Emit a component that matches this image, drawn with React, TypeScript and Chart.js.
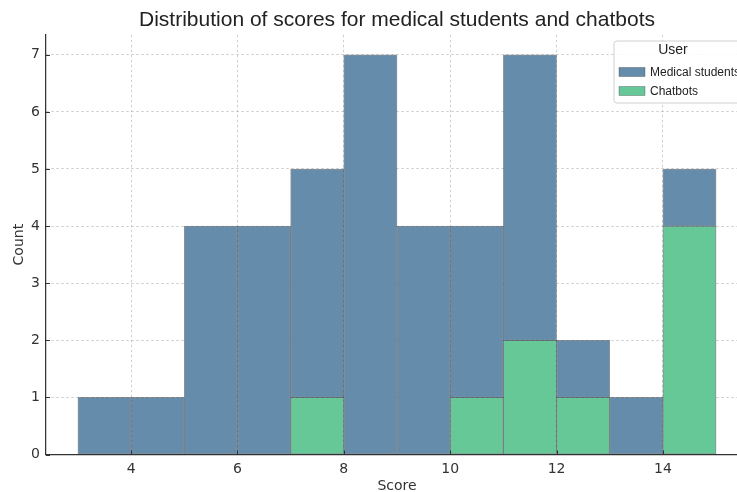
import React, { useEffect, useRef } from "react";
import { Chart, registerables } from "chart.js";

Chart.register(...registerables);

// ---- data ----
const binStarts = [3, 4, 5, 6, 7, 8, 9, 10, 11, 12, 13, 14];
const medicalStudents = [1, 1, 4, 4, 4, 7, 4, 3, 5, 1, 1, 1];
const chatbots = [0, 0, 0, 0, 1, 0, 0, 1, 2, 1, 0, 4];
const xTickValues = [4, 6, 8, 10, 12, 14];
const yTickValues = [0, 1, 2, 3, 4, 5, 6, 7];
const seriesNames = ["Medical students", "Chatbots"];
const legendTitle = "User";
const chartTitle = "Distribution of scores for medical students and chatbots";
const xLabel = "Score";
const yLabel = "Count";

const BLUE = "#658dab";
const GREEN = "#66c797";
const EDGE = "rgba(45,55,65,0.55)";
const GRID = "rgba(135,135,135,0.5)";
const TICKFONT = "DejaVu Sans";
const TEXTFONT = "Liberation Sans";

const overlay = {
  id: "overlay",
  afterDraw(chart: any) {
    const { ctx, chartArea, scales } = chart;
    const xs = scales.x;
    const ys = scales.y;
    ctx.save();
    ctx.setLineDash([]);
    // inward tick marks
    ctx.strokeStyle = "#333";
    ctx.lineWidth = 1;
    ctx.beginPath();
    xTickValues.forEach((v) => {
      const px = Math.round(xs.getPixelForValue(v)) + 0.5;
      ctx.moveTo(px, chartArea.bottom);
      ctx.lineTo(px, chartArea.bottom - 4);
    });
    yTickValues.forEach((v) => {
      const py = Math.round(ys.getPixelForValue(v)) + 0.5;
      ctx.moveTo(chartArea.left, py);
      ctx.lineTo(chartArea.left + 4, py);
    });
    ctx.stroke();

    // title
    ctx.fillStyle = "#222";
    ctx.font = `21px "${TEXTFONT}"`;
    ctx.textAlign = "center";
    ctx.textBaseline = "middle";
    ctx.fillText(chartTitle, (chartArea.left + chartArea.right) / 2, 20);

    // legend
    const bx = 614;
    const by = 41;
    const bw = 131;
    const bh = 62;
    const r = 3;
    ctx.beginPath();
    ctx.moveTo(bx + r, by);
    ctx.lineTo(bx + bw - r, by);
    ctx.arcTo(bx + bw, by, bx + bw, by + r, r);
    ctx.lineTo(bx + bw, by + bh - r);
    ctx.arcTo(bx + bw, by + bh, bx + bw - r, by + bh, r);
    ctx.lineTo(bx + r, by + bh);
    ctx.arcTo(bx, by + bh, bx, by + bh - r, r);
    ctx.lineTo(bx, by + r);
    ctx.arcTo(bx, by, bx + r, by, r);
    ctx.closePath();
    ctx.fillStyle = "rgba(255,255,255,0.85)";
    ctx.fill();
    ctx.strokeStyle = "#d0d0d0";
    ctx.lineWidth = 1;
    ctx.stroke();

    ctx.fillStyle = "#222";
    ctx.font = `14px "${TEXTFONT}"`;
    ctx.textAlign = "center";
    ctx.fillText(legendTitle, 673, 50);

    const colors = [BLUE, GREEN];
    const rowsY = [72, 91];
    ctx.font = `12px "${TEXTFONT}"`;
    ctx.textAlign = "left";
    seriesNames.forEach((name, i) => {
      ctx.fillStyle = colors[i];
      ctx.fillRect(619, rowsY[i] - 4.5, 26, 9);
      ctx.strokeStyle = EDGE;
      ctx.lineWidth = 0.6;
      ctx.strokeRect(619, rowsY[i] - 4.5, 26, 9);
      ctx.fillStyle = "#222";
      ctx.fillText(name, 650, rowsY[i] + 0.5);
    });
    ctx.restore();
  },
};

export default function App() {
  const ref = useRef<HTMLCanvasElement>(null);
  useEffect(() => {
    if (!ref.current) return;
    const centers = binStarts.map((s) => s + 0.5);
    const common = {
      borderColor: EDGE,
      borderWidth: 1,
      borderSkipped: false,
      grouped: false,
      barPercentage: 1,
      categoryPercentage: 1,
    };
    const chart = new Chart(ref.current, {
      type: "bar",
      data: {
        datasets: [
          {
            label: seriesNames[1],
            data: centers.map((c, i) => ({ x: c, y: chatbots[i] === 0 ? null : chatbots[i] })),
            backgroundColor: GREEN,
            ...common,
          } as any,
          {
            label: seriesNames[0],
            data: centers.map((c, i) => ({ x: c, y: medicalStudents[i] === 0 ? null : medicalStudents[i] })),
            backgroundColor: BLUE,
            ...common,
          } as any,
        ],
      },
      options: {
        animation: false,
        responsive: false,
        devicePixelRatio: 1,
        layout: { padding: { top: 34.8, right: 2, left: 0, bottom: 0 } },
        plugins: { legend: { display: false }, tooltip: { enabled: false }, title: { display: false } },
        scales: {
          x: {
            type: "linear",
            min: 2.4,
            max: 15.6,
            offset: false,
            stacked: false,
            z: 1,
            afterBuildTicks: (s: any) => {
              s.ticks = xTickValues.map((v) => ({ value: v }));
            },
            afterFit: (s: any) => {
              s.height = 37.5;
            },
            ticks: {
              autoSkip: false,
              maxRotation: 0,
              padding: 6,
              color: "#333",
              font: { family: TICKFONT, size: 14 },
            },
            grid: { color: GRID, lineWidth: 0.8, drawTicks: false, offset: false } as any,
            border: { display: true, color: "#333", width: 1.25, dash: [2.5, 2.5] } as any,
            title: {
              display: true,
              text: xLabel,
              color: "#333",
              font: { family: TICKFONT, size: 14, lineHeight: 1 },
              padding: { top: 0, bottom: -1 },
            },
          },
          y: {
            type: "linear",
            min: 0,
            max: 7.35,
            stacked: true,
            z: 1,
            afterBuildTicks: (s: any) => {
              s.ticks = yTickValues.map((v) => ({ value: v }));
            },
            afterFit: (s: any) => {
              s.width = 46;
            },
            ticks: {
              padding: 6,
              color: "#333",
              font: { family: TICKFONT, size: 14 },
            },
            grid: { color: GRID, lineWidth: 0.8, drawTicks: false } as any,
            border: { display: true, color: "#333", width: 1.25, dash: [2.5, 2.5] } as any,
            title: {
              display: true,
              text: yLabel,
              color: "#333",
              font: { family: TICKFONT, size: 14, lineHeight: 1 },
              padding: { top: 12, bottom: 0 },
            },
          },
        },
      },
      plugins: [overlay],
    });
    return () => chart.destroy();
  }, []);
  return (
    <div style={{ position: "absolute", left: 0, top: 0, width: 737, height: 492, overflow: "hidden", background: "#fff" }}>
      <canvas ref={ref} width={750} height={492} style={{ display: "block" }} />
    </div>
  );
}
